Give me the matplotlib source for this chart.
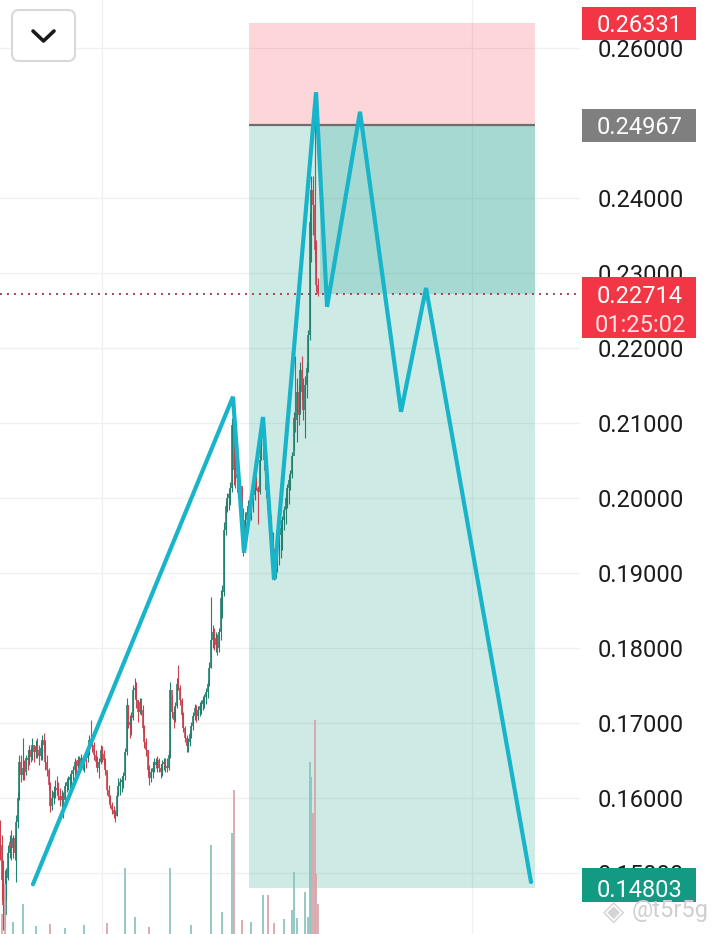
import numpy as np
import matplotlib
matplotlib.use("Agg")
import matplotlib.pyplot as plt
from matplotlib.patches import Rectangle, FancyBboxPatch

plt.rcParams['font.family'] = ['Roboto', 'DejaVu Sans']

# velas (indice de barra = posicion en el tiempo)
highs = [
    .1571, .1551, .1517, .1504, .1507, .1537, .1551, .1557, .1551, .1551,
    .1577, .1608, .1657, .1657, .1680, .1651, .1657, .1664, .1671, .1667,
    .1680, .1671, .1677, .1680, .1671, .1675, .1684, .1687, .1677, .1657,
    .1640, .1621, .1611, .1616, .1624, .1629, .1621, .1613, .1611, .1608,
    .1621, .1627, .1629, .1632, .1637, .1643, .1653, .1651, .1656, .1656,
    .1659, .1653, .1659, .1661, .1671, .1684, .1704, .1684, .1675, .1664,
    .1656, .1653, .1671, .1669, .1664, .1653, .1635, .1617, .1604, .1595,
    .1589, .1584, .1608, .1627, .1627, .1629, .1635, .1667, .1733, .1724,
    .1711, .1715, .1751, .1760, .1755, .1731, .1733, .1733, .1724, .1697,
    .1680, .1664, .1644, .1640, .1648, .1653, .1653, .1656, .1653, .1645,
    .1651, .1653, .1653, .1653, .1664, .1755, .1737, .1720, .1728, .1760,
    .1777, .1751, .1733, .1715, .1696, .1684, .1680, .1691, .1701, .1715,
    .1725, .1724, .1723, .1728, .1731, .1736, .1739, .1747, .1757, .1781,
    .1868, .1831, .1827, .1821, .1819, .1827, .1877, .1884, .1968, .1997,
    .2007, .2011, .2021, .2107, .2135, .2071, .2040, .2035, .2021, .2013,
    .1987, .1981, .1987, .1997, .2003, .2000, .2008, .2024, .2029, .2016,
    .2057, .2091, .2108, .2107, .2053, .2013, .1989, .1977, .1955, .1933,
    .1933, .1944, .1957, .1965, .1976, .1989, .2005, .2019, .2029, .2037,
    .2061, .2115, .2189, .2160, .2151, .2181, .2189, .2160, .2163, .2181,
    .2224, .2380, .2429, .2429, .2541, .2344, .2293,
]
lows = [
    .1517, .1464, .1424, .1427, .1464, .1491, .1520, .1517, .1520, .1517,
    .1488, .1560, .1597, .1621, .1624, .1624, .1631, .1637, .1644, .1648,
    .1651, .1648, .1653, .1653, .1644, .1651, .1651, .1661, .1637, .1629,
    .1611, .1581, .1584, .1592, .1600, .1604, .1597, .1589, .1587, .1573,
    .1595, .1608, .1611, .1613, .1616, .1619, .1629, .1631, .1635, .1635,
    .1637, .1637, .1635, .1640, .1648, .1657, .1671, .1661, .1651, .1643,
    .1635, .1627, .1645, .1648, .1643, .1631, .1604, .1595, .1587, .1579,
    .1573, .1568, .1576, .1603, .1604, .1608, .1613, .1624, .1657, .1693,
    .1680, .1684, .1704, .1733, .1720, .1701, .1712, .1711, .1688, .1667,
    .1656, .1631, .1617, .1621, .1627, .1635, .1640, .1635, .1635, .1627,
    .1629, .1637, .1635, .1635, .1637, .1653, .1707, .1693, .1701, .1720,
    .1744, .1724, .1707, .1688, .1675, .1661, .1661, .1669, .1680, .1691,
    .1704, .1701, .1704, .1709, .1712, .1717, .1720, .1725, .1733, .1749,
    .1773, .1800, .1797, .1795, .1791, .1795, .1811, .1840, .1869, .1951,
    .1981, .1984, .1991, .2008, .2017, .2013, .2008, .2000, .2000, .1957,
    .1923, .1944, .1964, .1973, .1973, .1971, .1981, .1997, .2011, .1965,
    .2005, .2051, .2071, .2037, .2000, .1973, .1965, .1944, .1907, .1891,
    .1893, .1901, .1911, .1920, .1931, .1957, .1965, .1987, .1992, .2011,
    .2027, .2064, .2088, .2075, .2097, .2115, .2131, .2104, .2080, .2133,
    .2168, .2211, .2315, .2351, .2315, .2275, .2269,
]
closes = [
    .1537, .1491, .1457, .1444, .1493, .1527, .1541, .1533, .1547, .1527,
    .1568, .1600, .1648, .1631, .1640, .1635, .1653, .1651, .1664, .1655,
    .1671, .1661, .1669, .1664, .1656, .1667, .1677, .1671, .1648, .1637,
    .1617, .1589, .1600, .1608, .1613, .1611, .1603, .1597, .1603, .1597,
    .1616, .1621, .1624, .1628, .1632, .1637, .1648, .1643, .1651, .1645,
    .1653, .1648, .1656, .1653, .1667, .1677, .1675, .1671, .1657, .1648,
    .1640, .1648, .1664, .1659, .1651, .1637, .1611, .1601, .1591, .1584,
    .1579, .1576, .1603, .1616, .1621, .1624, .1629, .1661, .1724, .1701,
    .1697, .1707, .1744, .1747, .1731, .1715, .1728, .1717, .1693, .1675,
    .1664, .1637, .1627, .1635, .1640, .1648, .1644, .1651, .1640, .1635,
    .1645, .1648, .1643, .1640, .1657, .1744, .1715, .1704, .1723, .1752,
    .1747, .1731, .1711, .1693, .1680, .1669, .1675, .1685, .1696, .1709,
    .1720, .1709, .1717, .1723, .1725, .1731, .1735, .1741, .1752, .1773,
    .1811, .1821, .1804, .1813, .1800, .1821, .1867, .1875, .1957, .1989,
    .2000, .2005, .2013, .2097, .2037, .2027, .2032, .2011, .2016, .1964,
    .1937, .1971, .1981, .1989, .1984, .1993, .2004, .2017, .2013, .2008,
    .2051, .2084, .2097, .2051, .2011, .1984, .1971, .1951, .1917, .1904,
    .1924, .1937, .1951, .1960, .1971, .1984, .2000, .2013, .2024, .2032,
    .2056, .2107, .2104, .2141, .2111, .2171, .2141, .2117, .2151, .2173,
    .2217, .2368, .2411, .2391, .2331, .2284, .22714,
]
first_open = 0.1560

# volumen (millones) solo en las barras visibles
vol_bar = [1, 3, 8, 14, 22, 31, 40, 52, 66, 77, 83, 92, 105, 118, 130, 137, 143, 144,
           149, 155, 162, 165, 169, 175, 180, 181, 183, 188, 190, 191, 192, 193, 194, 195, 196]
vol_val = [2.0, 5.0, 1.2, 3.0, 0.8, 1.0, 0.6, 0.9, 1.1, 6.6, 1.7, 0.7, 6.6, 0.9, 8.9, 2.2, 10.1, 14.4,
           1.4, 1.2, 3.9, 3.9, 1.1, 1.5, 2.4, 6.2, 1.6, 4.2, 1.7, 17.2, 15.7, 12.1, 21.4, 6.0, 3.0]

# linea en zigzag dibujada
zz_bar = [20.3, 143.6, 150.4, 162.1, 168.9, 194.8, 201.6, 221.9, 247.2, 262.6, 327.3]
zz_price = [0.1485, 0.2135, 0.1927, 0.2108, 0.1891, 0.2541, 0.2255, 0.2515, 0.2115, 0.2280, 0.1488]

# posicion corta
box_start, box_end = 153.5, 329.8
entry = 0.24967
stop = 0.26331
target = 0.14803
current = 0.22714
countdown = "01:25:02"

price_ticks = [0.15, 0.16, 0.17, 0.18, 0.19, 0.20, 0.21, 0.22, 0.23, 0.24, 0.26]
time_grid = [63, 291]

UP = '#25806f'
DOWN = '#c9404f'

W, H = 720, 934
plot_w = 580
y_lo, y_hi = 0.14187, 0.2664
px_per_price = H / (y_hi - y_lo)

fig = plt.figure(figsize=(W / 100, H / 100), dpi=100)
ax = fig.add_axes([0, 0, plot_w / W, 1])
ax.set_xlim(0, 357.5)
ax.set_ylim(y_lo, y_hi)
for s in ax.spines.values():
    s.set_visible(False)
ax.set_yticks(price_ticks)
ax.set_yticklabels([f'{t:.5f}' for t in price_ticks])
ax.yaxis.tick_right()
ax.tick_params(axis='y', length=0, pad=13, labelsize=17, labelcolor='#1c1c1c')
ax.set_xticks(time_grid)
ax.set_xticklabels([])
ax.tick_params(axis='x', length=0)
ax.grid(True, color='#f0f0f0', lw=1)
ax.set_axisbelow(True)

# cajas de la posicion
n = len(closes)
last_bar = n - 1
ax.add_patch(Rectangle((box_start, entry), box_end - box_start, stop - entry,
                       fc='#f23645', alpha=0.2, lw=0, zorder=1))
ax.add_patch(Rectangle((box_start, target), box_end - box_start, entry - target,
                       fc='#089981', alpha=0.2, lw=0, zorder=1))
ax.add_patch(Rectangle((last_bar + 1, current), box_end - last_bar - 1, entry - current,
                       fc='#089981', alpha=0.2, lw=0, zorder=1))
ax.hlines(entry, box_start, box_end, color='#6e6e6e', lw=1.6, zorder=1.5)

# velas
x = np.arange(n)
o = np.array([first_open] + closes[:-1])
c = np.array(closes)
col = [UP if cc >= oo else DOWN for oo, cc in zip(o, c)]
ax.vlines(x, lows, highs, colors=col, lw=0.8, zorder=2)
ax.vlines(x, np.minimum(o, c), np.maximum(o, c), colors=col, lw=1.2, zorder=2)

# zigzag
ax.plot(zz_bar, zz_price, color='#18b4ca', lw=3, solid_joinstyle='miter',
        solid_capstyle='round', zorder=4)

# precio actual
ax.axhline(current, color='#a8424f', lw=1.4, ls=(0, (1, 2.6)), zorder=3)

# etiquetas de precio a la derecha
def tag(price, text, color, up_px=16, down_px=17):
    tr = ax.get_yaxis_transform()
    ax.add_patch(Rectangle((582 / plot_w, price - down_px / px_per_price), 114 / plot_w,
                           (up_px + down_px) / px_per_price, transform=tr, fc=color,
                           lw=0, clip_on=False, zorder=6))
    ax.text(640 / plot_w, price, text, transform=tr, color='white', fontsize=17,
            ha='center', va='center_baseline', clip_on=False, zorder=7)

tag(stop, f'{stop:.5f}', '#f23645')
tag(entry, f'{entry:.5f}', '#7f7f7f')
tag(current, f'{current:.5f}', '#f23645', up_px=17, down_px=44)
ax.text(640 / plot_w, current - 29 / px_per_price, countdown, transform=ax.get_yaxis_transform(),
        color='white', alpha=0.85, fontsize=17, ha='center', va='center_baseline',
        clip_on=False, zorder=7)
tag(target, f'{target:.5f}', '#129a83', up_px=20, down_px=14)

# volumen
ax2 = fig.add_axes(ax.get_position(), sharex=ax)
ax2.set_ylim(0, 93.4)
ax2.axis('off')
vcol = ['#8cc5bf' if c[b] >= o[b] else '#d9a5aa' for b in vol_bar]
ax2.vlines(vol_bar, 0, vol_val, colors=vcol, lw=1.3)

# interfaz: boton y marca de agua
ui = fig.add_axes([0, 0, 1, 1])
ui.set_xlim(0, W)
ui.set_ylim(H, 0)
ui.axis('off')
ui.add_patch(FancyBboxPatch((12, 10), 63, 51, boxstyle='round,pad=0,rounding_size=7',
                            fc='white', ec='#d8d8d8', lw=1.5))
ui.plot([33, 43.5, 54], [31, 41, 31], color='#1a1a1a', lw=2.6, solid_capstyle='round',
        solid_joinstyle='round')
ui.text(614, 912, '◈', fontsize=20, color='#d4d4d4', ha='center', va='center')
ui.text(632, 911, '@t5r5g', fontsize=17, color='#cfcfcf', ha='left', va='center')

plt.savefig('out.png', dpi=100)
